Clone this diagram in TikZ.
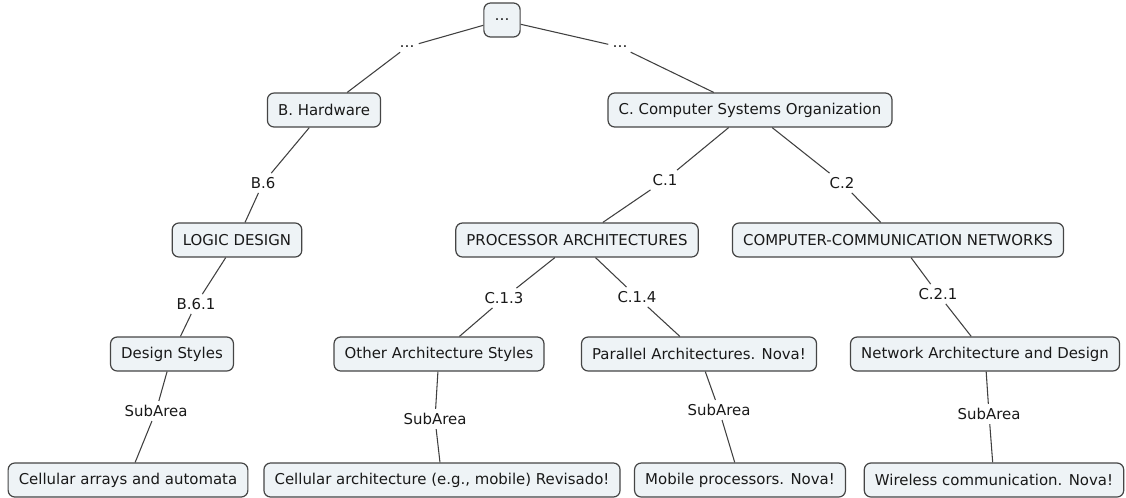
\documentclass[tikz,border=0pt]{standalone}
\usepackage{fontspec}
\setmainfont{DejaVu Sans}
\usepackage{tikz}
\usetikzlibrary{positioning}

\definecolor{boxfill}{HTML}{EEF3F6}
\definecolor{boxline}{HTML}{454545}
\definecolor{linkline}{HTML}{404040}

\begin{document}
\begin{tikzpicture}[x=0.75pt, y=-0.75pt,
    every node/.style={font=\fontsize{11.2}{13}\selectfont, text=black!90},
    concept/.style={draw=boxline, fill=boxfill, line width=0.9pt,
      rounded corners=5pt, minimum height=25.5pt, inner xsep=8pt},
    link/.style={inner sep=3pt},
    conn/.style={draw=linkline, line width=0.8pt}]
      \useasboundingbox (0, 0) rectangle (1126, 497);
      % concepts
      \node[concept] (root) at (502, 20) {\ldots};
      \node[concept] (hardware) at (324, 110) {B. Hardware};
      \node[concept] (cso) at (750, 110) {C. Computer Systems Organization};
      \node[concept] (logicdesign) at (237, 240) {LOGIC DESIGN};
      \node[concept] (procarch) at (577, 240) {PROCESSOR ARCHITECTURES};
      \node[concept] (compnet) at (898, 240) {COMPUTER-COMMUNICATION NETWORKS};
      \node[concept] (designstyles) at (172, 354) {Design Styles};
      \node[concept] (otherarch) at (439, 354) {Other Architecture Styles};
      \node[concept] (parallelarch) at (699, 354) {Parallel Architectures. Nova!};
      \node[concept] (netarch) at (985, 354) {Network Architecture and Design};
      \node[concept] (cellarrays) at (128, 480) {Cellular arrays and automata};
      \node[concept] (cellarch) at (442, 480) {Cellular architecture (e.g., mobile) Revisado!};
      \node[concept] (mobileproc) at (740, 480) {Mobile processors. Nova!};
      \node[concept] (wireless) at (994, 480) {Wireless communication. Nova!};
      % linking phrases
      \node[link] (dotsl) at (407, 47) {\ldots};
      \node[link] (dotsr) at (620, 47) {\ldots};
      \node[link] (b6) at (263, 183) {B.6};
      \node[link] (c1) at (665, 180) {C.1};
      \node[link] (c2) at (842, 183) {C.2};
      \node[link] (b61) at (196, 304) {B.6.1};
      \node[link] (c13) at (504, 298) {C.1.3};
      \node[link] (c14) at (637, 297) {C.1.4};
      \node[link] (c21) at (938, 294) {C.2.1};
      \node[link] (sub1) at (156, 411) {SubArea};
      \node[link] (sub2) at (435, 419) {SubArea};
      \node[link] (sub3) at (719, 410) {SubArea};
      \node[link] (sub4) at (989, 414) {SubArea};
      % connections
      \draw[conn] (root) -- (dotsl) -- (hardware);
      \draw[conn] (root) -- (dotsr) -- (cso);
      \draw[conn] (hardware) -- (b6) -- (logicdesign);
      \draw[conn] (cso) -- (c1) -- (procarch);
      \draw[conn] (cso) -- (c2) -- (compnet);
      \draw[conn] (logicdesign) -- (b61) -- (designstyles);
      \draw[conn] (procarch) -- (c13) -- (otherarch);
      \draw[conn] (procarch) -- (c14) -- (parallelarch);
      \draw[conn] (compnet) -- (c21) -- (netarch);
      \draw[conn] (designstyles) -- (sub1) -- (cellarrays);
      \draw[conn] (otherarch) -- (sub2) -- (cellarch);
      \draw[conn] (parallelarch) -- (sub3) -- (mobileproc);
      \draw[conn] (netarch) -- (sub4) -- (wireless);
    \end{tikzpicture}
\end{document}
